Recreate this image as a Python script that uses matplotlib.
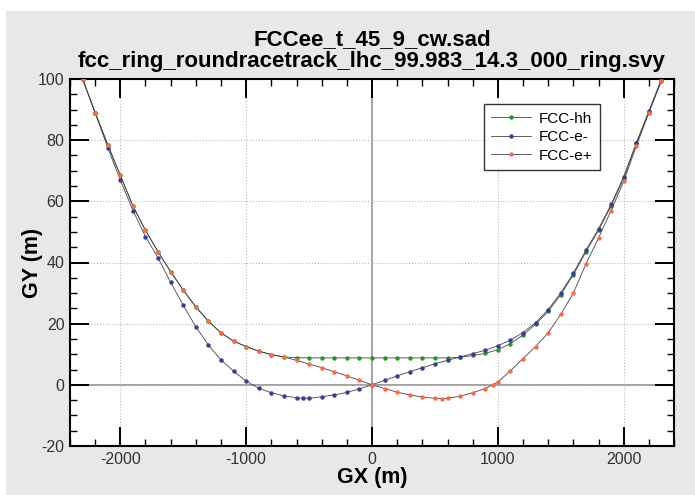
import matplotlib
matplotlib.use("Agg")
import matplotlib.pyplot as plt
from matplotlib.patches import Rectangle
from matplotlib.ticker import MultipleLocator

plt.rcParams['font.family'] = ['Liberation Sans', 'DejaVu Sans']
plt.rcParams['axes.unicode_minus'] = False

# FCC-hh
hh_x = [-2330, -2300, -2200, -2100, -2000, -1900, -1800, -1700, -1600, -1500,
        -1400, -1300, -1200, -1100, -1000, -900, -800, -700, -600, -500,
        -400, -300, -200, -100, 0, 100, 200, 300, 400, 500,
        600, 700, 800, 900, 1000, 1100, 1200, 1300, 1400, 1500,
        1600, 1700, 1800, 1900, 2000, 2100, 2200, 2300, 2330]
hh_y = [102.5, 100, 89, 78.5, 68.5, 58.5, 50.5, 43.5, 37, 31,
        25.5, 20.8, 17, 14.3, 12.5, 11, 9.9, 9.1, 8.9, 8.8,
        8.8, 8.8, 8.8, 8.8, 8.8, 8.8, 8.8, 8.8, 8.8, 8.8,
        8.8, 9.0, 9.6, 10.3, 11.5, 13.5, 16.3, 19.8, 24, 29.5,
        36, 43.5, 50.5, 58.5, 67.5, 79, 89, 99.5, 102.5]

# FCC-e-
em_x = [-2330, -2300, -2200, -2100, -2000, -1900, -1800, -1700, -1600, -1500,
        -1400, -1300, -1200, -1100, -1000, -900, -800, -700, -600, -550,
        -500, -400, -300, -200, -100, 0, 100, 200, 300, 400,
        500, 600, 700, 800, 900, 1000, 1100, 1200, 1300, 1400,
        1500, 1600, 1700, 1800, 1900, 2000, 2100, 2200, 2300, 2330]
em_y = [102.5, 100, 89, 77.5, 67, 57, 48.5, 41.5, 33.5, 26,
        19, 13, 8.1, 4.5, 1.2, -1.1, -2.6, -3.6, -4.2, -4.4,
        -4.4, -3.9, -3.3, -2.5, -1.3, 0, 1.5, 2.9, 4.3, 5.6,
        6.9, 8.0, 9.1, 10.2, 11.3, 12.8, 14.6, 17.1, 20.3, 24.6,
        30, 36.5, 44, 51, 59, 68, 79, 89.5, 100, 103]

# FCC-e+
ep_x = [-2330, -2300, -2200, -2100, -2000, -1900, -1800, -1700, -1600, -1500,
        -1400, -1300, -1200, -1100, -1000, -900, -800, -700, -600, -500,
        -400, -300, -200, -100, 0, 100, 200, 300, 400, 500,
        560, 600, 700, 800, 900, 960, 1000, 1100, 1200, 1300,
        1400, 1500, 1600, 1700, 1800, 1900, 2000, 2100, 2200, 2300, 2340]
ep_y = [102.5, 100, 89, 78.5, 68.5, 58.5, 50.5, 43.5, 37, 31,
        25.5, 20.8, 17, 14.3, 12.5, 11, 9.9, 9.1, 8.0, 6.8,
        5.6, 4.3, 2.9, 1.5, 0, -1.2, -2.4, -3.3, -4.0, -4.4,
        -4.5, -4.4, -3.7, -2.6, -1.2, 0, 0.9, 4.6, 8.6, 12.5,
        17, 23, 30, 39.5, 48, 57, 66.5, 78, 89, 99.5, 103]

series = [("FCC-hh", hh_x, hh_y, "#1e9e1e"),
          ("FCC-e-", em_x, em_y, "#3f3a9a"),
          ("FCC-e+", ep_x, ep_y, "#ff6a47")]

fig = plt.figure(figsize=(6.95, 4.95), dpi=100)
fig.patch.set_facecolor("white")
fig.patches.append(Rectangle((6 / 695, 0), 1, (495 - 11) / 495,
                             transform=fig.transFigure, facecolor="#e8e8e8",
                             edgecolor="none", zorder=-10))

ax = fig.add_axes([70 / 695, (495 - 446) / 495, 604 / 695, 367 / 495])
ax.set_facecolor("white")

for name, xs, ys, col in series:
    ax.plot(xs, ys, "-", color="#444444", lw=0.6, marker="o", ms=2.2,
            mfc=col, mec=col, label=name, zorder=3)

ax.set_xlim(-2400, 2400)
ax.set_ylim(-20, 100)
ax.xaxis.set_major_locator(MultipleLocator(1000))
ax.xaxis.set_minor_locator(MultipleLocator(200))
ax.yaxis.set_major_locator(MultipleLocator(20))
ax.yaxis.set_minor_locator(MultipleLocator(5))
ax.tick_params(which="both", direction="in", top=True, right=True,
               labelsize=11.5, labelcolor="#333333", pad=4)
ax.tick_params(which="major", length=14, width=1.4)
ax.tick_params(which="minor", length=5, width=1.0)
for s in ax.spines.values():
    s.set_linewidth(1.5)

ax.grid(True, which="major", color="#bbbbbb", ls=":", lw=0.8, zorder=0)
ax.axhline(0, color="#999999", lw=1.3, zorder=1)
ax.axvline(0, color="#999999", lw=1.3, zorder=1)

ax.set_xlabel("GX (m)", fontsize=15.5, fontweight="bold", labelpad=0)
ax.set_ylabel("GY (m)", fontsize=15.5, fontweight="bold", labelpad=-4)
fig.text(372 / 695, 1 - 40 / 495, "FCCee_t_45_9_cw.sad", ha="center",
         va="center", fontsize=16, fontweight="bold")
fig.text(372 / 695, 1 - 62 / 495,
         "fcc_ring_roundracetrack_lhc_99.983_14.3_000_ring.svy", ha="center",
         va="center", fontsize=16, fontweight="bold")

leg = ax.legend(loc="upper left", bbox_to_anchor=(0.685, 0.932), fontsize=11,
                frameon=True, fancybox=False, edgecolor="black",
                borderaxespad=0, borderpad=0.5, handlelength=2.6,
                labelspacing=0.3, handletextpad=0.5)
leg.get_frame().set_linewidth(1.0)

fig.savefig("out.png", dpi=100, facecolor=fig.get_facecolor())
